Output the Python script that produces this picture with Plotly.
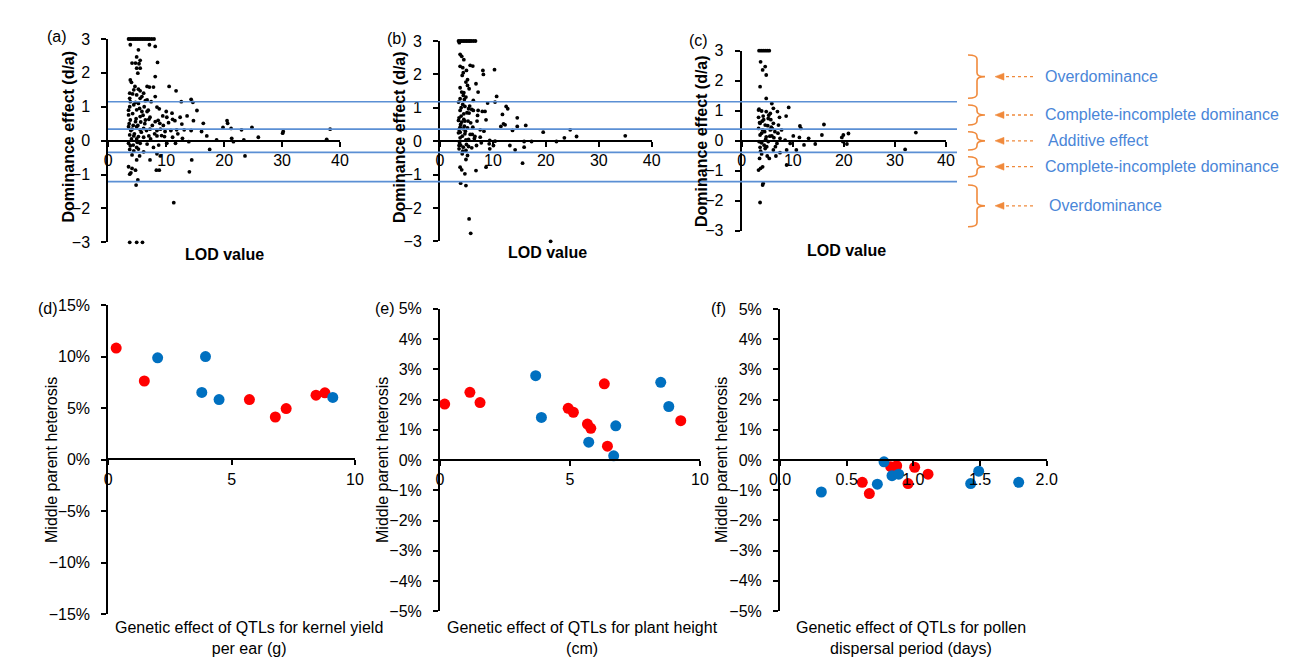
import plotly.graph_objects as go

# the page body adds an 8px margin; the figure is sized to fit inside the window
OFF = 8
W, H = 1302 - OFF, 664 - OFF


def fx(x):
    return (x - OFF) / W


def fy(y):
    return 1 - (y - OFF) / H


# ---------------- data: top panels (LOD value vs dominance effect d/a) ----------------
lod_a = [3.5, 3.8, 4.1, 4.4, 4.7, 5.0, 5.3, 5.6, 5.9, 6.2, 6.5, 6.8, 7.1, 7.5, 7.9,
         3.7, 4.9, 5.9,
         3.8, 7.1, 8.1, 5.2, 4.9, 5.5, 4.1, 4.7, 5.3, 8.5, 4.9, 5.5, 5.1, 8.1, 3.8, 4.0,
         10.5, 6.7, 7.1, 7.8, 4.4, 5.2, 5.5, 11.7, 3.7, 4.2, 4.9, 6.1, 8.1, 5.5, 6.7, 14.3,
         14.6, 12.6, 3.8, 4.7, 5.2, 6.4, 7.4, 3.7, 4.4, 8.4, 8.8, 4.9, 5.8, 6.7, 15.3, 10.0,
         11.0, 3.5, 5.5, 7.2, 9.4, 10.1, 12.4, 13.6, 11.1, 11.5, 3.8, 4.7, 6.4, 8.1, 7.0,
         14.7, 16.4, 8.9, 10.4, 12.7, 20.5, 20.6, 19.8, 21.2, 24.8, 23.0, 3.5, 4.1, 4.9, 5.5,
         6.1, 7.2, 8.4, 9.0, 9.8, 11.8, 13.1, 14.3, 16.1, 17.0, 30.2, 30.1, 38.3, 3.7, 4.4,
         5.2, 6.1, 7.0, 8.4, 9.7, 11.1, 12.8, 13.9, 18.7, 21.3, 23.4, 25.9, 21.6, 37.7, 3.5,
         4.3, 5.5, 6.7, 8.7, 10.1, 11.6, 3.7, 4.9, 6.1, 17.5, 4.1, 5.4, 8.4, 9.0, 7.2, 14.4,
         23.6, 4.9, 3.5, 4.1, 4.7, 8.3, 8.8, 14.0, 3.9, 3.7, 5.1, 4.8, 11.3,
         3.6, 3.9, 4.2, 4.5, 4.8, 5.1, 5.4, 5.7, 6.0, 6.3, 6.6, 3.7, 4.0, 4.6, 5.0, 5.8, 6.9,
         7.6, 8.0, 8.6, 9.2, 3.5, 4.3, 4.9, 5.6, 6.2, 7.3, 3.8, 4.4, 5.2, 7.8, 9.5, 10.8, 12.0]
dom_a = [3.0, 3.0, 3.0, 3.0, 3.0, 3.0, 3.0, 3.0, 3.0, 3.0, 3.0, 3.0, 3.0, 3.0, 3.0,
         -3.0, -3.0, -3.0,
         2.83, 2.83, 2.78, 2.68, 2.47, 2.37, 2.29, 2.29, 2.27, 2.31, 2.14, 2.14, 1.99, 1.89,
         1.79, 1.72, 1.6, 1.6, 1.58, 1.58, 1.5, 1.52, 1.47, 1.47, 1.4, 1.38, 1.35, 1.4, 1.3,
         1.25, 1.2, 1.22, 1.13, 1.15, 1.15, 1.13, 1.1, 1.18, 1.15, 1.0, 1.06, 0.99, 0.94, 0.91,
         0.86, 0.86, 0.89, 0.86, 0.81, 0.76, 0.71, 0.69, 0.73, 0.69, 0.69, 0.73, 0.63, 0.59,
         0.61, 0.56, 0.61, 0.56, 0.63, 0.59, 0.51, 0.51, 0.53, 0.49, 0.59, 0.51, 0.39, 0.36,
         0.39, 0.32, 0.41, 0.34, 0.41, 0.32, 0.36, 0.34, 0.3, 0.34, 0.27, 0.32, 0.32, 0.3, 0.27,
         0.14, 0.27, 0.22, 0.34, 0.17, 0.14, 0.12, 0.1, 0.14, 0.14, 0.12, 0.1, 0.07, -0.03,
         0.02, 0.07, 0.02, 0.1, -0.03, 0.04, -0.08, -0.13, -0.08, -0.1, -0.13, -0.08, -0.08,
         -0.26, -0.2, -0.33, -0.26, -0.42, -0.45, -0.39, -0.45, -0.57, -0.57, -0.45, -0.57,
         -0.77, -0.82, -0.87, -0.87, -0.87, -0.92, -0.95, -0.99, -1.16, -1.31, -1.83,
         0.5, 0.3, 0.8, 0.2, 0.65, 0.45, 0.95, 0.25, 0.75, 0.5, 0.3, 1.25, 0.05, 1.6, -0.05,
         1.3, 0.9, 0.45, 0.2, 0.6, 0.15, 0.9, 0.45, 0.05, 0.55, 1.0, 0.05, -0.15, -0.3, -0.25,
         -0.2, 0.45, 0.3, 0.2]

lod_b = [3.5, 3.8, 4.1, 4.4, 4.7, 5.0, 5.3, 5.6, 5.9, 6.3, 6.7,
         3.65, 3.8, 4.1, 4.5, 3.8, 4.3, 5.7, 6.2, 5.0, 10.3, 8.1, 8.2, 4.2, 5.2, 4.9, 5.2, 6.8,
         5.5, 7.2, 4.1, 4.4, 4.9, 3.8, 10.7, 6.3, 10.4, 3.5, 4.3, 4.7, 9.0, 12.5, 12.8, 5.4,
         6.3, 7.2, 8.0, 8.5, 3.8, 4.5, 5.5, 7.1, 11.8, 14.6, 8.7, 3.5, 4.1, 4.7, 12.0, 12.3,
         11.5, 16.2, 14.6, 3.8, 4.4, 5.2, 6.2, 7.6, 13.7, 19.5, 24.6, 3.8, 4.7, 5.7, 6.6, 7.6,
         23.5, 25.8, 35.0, 3.8, 4.9, 9.4, 10.4, 15.9, 17.3, 22.0, 3.6, 4.4, 5.4, 6.9, 9.3,
         10.1, 13.2, 3.6, 4.9, 9.4, 14.2, 15.9, 4.2, 5.2, 3.8, 4.1, 8.7, 15.6, 6.8, 4.7, 3.9,
         4.9, 5.5, 5.8, 20.9,
         3.6, 3.9, 4.2, 4.5, 4.8, 5.1, 5.4, 3.7, 4.0, 4.6, 5.0, 5.8, 6.1, 3.6, 4.3, 4.9, 6.0,
         7.0, 3.8, 4.4, 5.6, 6.5, 7.8, 8.3, 3.5, 4.0, 4.6, 5.3, 6.0, 3.9, 4.5]
dom_b = [3.0, 3.0, 3.0, 3.0, 3.0, 3.0, 3.0, 3.0, 3.0, 3.0, 3.0,
         2.95, 2.6, 2.54, 2.44, 2.24, 2.2, 2.27, 2.25, 2.12, 2.14, 2.12, 2.0, 1.97, 1.84, 1.77,
         1.67, 1.72, 1.57, 1.47, 1.47, 1.37, 1.32, 1.27, 1.34, 1.22, 1.17, 1.17, 1.1, 1.04,
         1.14, 1.04, 0.97, 0.97, 0.92, 0.92, 0.89, 0.89, 0.92, 0.82, 0.84, 0.77, 0.8, 0.7, 0.64,
         0.62, 0.57, 0.6, 0.52, 0.49, 0.44, 0.47, 0.44, 0.42, 0.37, 0.4, 0.42, 0.34, 0.32, 0.27,
         0.34, 0.27, 0.22, 0.2, 0.14, 0.12, 0.1, 0.14, 0.16, 0.1, 0.04, 0.02, 0.0, -0.01, -0.01,
         -0.01, -0.13, -0.18, -0.16, -0.13, -0.08, -0.13, -0.13, -0.23, -0.28, -0.23, -0.26,
         -0.18, -0.38, -0.43, -0.78, -0.86, -0.78, -0.66, -0.88, -0.98, -1.26, -1.33, -2.33,
         -2.76, -3.0,
         0.7, 0.5, 0.15, 0.65, 0.3, 0.85, 0.05, -0.05, 1.0, 1.25, -0.1, 0.55, 0.2, 0.35, -0.3,
         -0.55, -0.2, 0.6, 1.6, 2.05, 1.05, 0.08, -0.05, 0.3, 0.25, 0.75, 0.45, 0.6, 0.95,
         -0.12, 1.45]

lod_c = [3.4, 3.8, 4.2, 4.6, 5.0, 5.4,
         3.7, 4.6, 4.1, 4.8, 3.6, 4.8, 5.9, 9.2, 6.2, 3.3, 3.9, 4.8, 5.6, 7.0, 3.3, 4.2, 5.2,
         8.7, 7.4, 3.6, 4.6, 6.2, 7.2, 16.1, 11.4, 11.6, 3.3, 4.1, 5.6, 6.5, 7.8, 15.7, 19.9,
         20.9, 34.1, 10.1, 11.3, 13.1, 19.6, 3.6, 4.8, 5.9, 7.5, 8.5, 3.4, 3.9, 5.2, 6.9, 9.5,
         12.2, 14.4, 20.6, 19.8, 3.6, 4.6, 6.2, 7.5, 8.8, 10.7, 32.0, 3.9, 5.0, 6.7, 3.5, 5.4,
         8.8, 4.1, 3.3, 3.7, 4.1, 4.2, 3.6,
         3.5, 3.9, 4.3, 4.7, 5.1, 5.5, 3.7, 4.4, 5.3, 6.0, 6.6, 7.1, 3.4, 4.0, 4.5, 5.7, 6.3,
         3.8, 4.9, 5.8]
dom_c = [3.0, 3.0, 3.0, 3.0, 3.0, 3.0,
         2.63, 2.47, 2.36, 2.19, 1.8, 1.41, 1.24, 1.11, 1.08, 1.02, 0.99, 0.97, 0.91, 0.97, 0.78,
         0.82, 0.74, 0.82, 0.78, 0.58, 0.52, 0.58, 0.52, 0.54, 0.49, 0.41, 0.41, 0.36, 0.36,
         0.3, 0.36, 0.19, 0.19, 0.24, 0.27, 0.16, 0.11, 0.08, 0.11, 0.19, 0.13, 0.16, 0.08,
         0.02, -0.03, -0.07, -0.03, -0.09, -0.09, -0.14, -0.11, -0.11, -0.03, -0.22, -0.26,
         -0.31, -0.4, -0.31, -0.31, -0.29, -0.44, -0.51, -0.51, -0.59, -0.59, -0.81, -0.87,
         -0.98, -0.92, -1.48, -1.42, -2.06,
         0.6, 0.25, 0.7, 0.05, 0.5, 0.15, -0.35, -0.15, 0.85, 0.4, -0.2, 0.25, 1.05, 0.65,
         0.3, 0.7, 0.1, -0.05, -0.2, 0.45]

# blue threshold lines (in panel (a) d/a units)
dom_thresholds = [1.15, 0.34, -0.345, -1.21]

# ---------------- data: bottom panels (genetic effect vs middle parent heterosis) ----------------
ky_red_x = [0.32, 1.46, 5.72, 6.77, 7.21, 8.42, 8.78]
ky_red_y = [0.1085, 0.0765, 0.0585, 0.0415, 0.0497, 0.0627, 0.065]
ky_blue_x = [2.0, 3.94, 3.79, 4.49, 9.1]
ky_blue_y = [0.099, 0.1003, 0.0654, 0.0585, 0.0605]

ph_red_x = [0.18, 1.15, 1.54, 4.93, 5.13, 5.67, 5.8, 6.32, 6.44, 9.26]
ph_red_y = [0.0185, 0.0224, 0.019, 0.0171, 0.0158, 0.0119, 0.0105, 0.0252, 0.0046, 0.013]
ph_blue_x = [3.68, 3.9, 5.72, 6.68, 6.76, 8.49, 8.8]
ph_blue_y = [0.0279, 0.0141, 0.0059, 0.0014, 0.0113, 0.0257, 0.0177]

pd_red_x = [0.617, 0.67, 0.83, 0.875, 0.96, 1.01, 1.11]
pd_red_y = [-0.0074, -0.0111, -0.0022, -0.0019, -0.0078, -0.0024, -0.0047]
pd_blue_x = [0.31, 0.73, 0.78, 0.84, 0.89, 1.43, 1.49, 1.79]
pd_blue_y = [-0.0106, -0.008, -0.0006, -0.0052, -0.0047, -0.0078, -0.0037, -0.0074]

range_labels = ["Overdominance", "Complete-incomplete dominance", "Additive effect",
                "Complete-incomplete dominance", "Overdominance"]

# ---------------- figure ----------------
fig = go.Figure()

FONT = "Liberation Sans, Arial, sans-serif"
BLACK = "#000000"
RED = "#FF0000"
BLUE = "#0070C0"
ORANGE = "#F08A3C"
LINEBLUE = "#5B8FD4"
TEXTBLUE = "#4A86D8"

top = [("x", "y", lod_a, dom_a), ("x2", "y2", lod_b, dom_b), ("x3", "y3", lod_c, dom_c)]
for xa, ya, xs, ys in top:
    fig.add_trace(go.Scatter(x=xs, y=ys, xaxis=xa, yaxis=ya, mode="markers",
                             marker=dict(size=3.8, color=BLACK), cliponaxis=False,
                             showlegend=False, hoverinfo="x+y"))

bottom = [("x4", "y4", ky_red_x, ky_red_y, ky_blue_x, ky_blue_y),
          ("x5", "y5", ph_red_x, ph_red_y, ph_blue_x, ph_blue_y),
          ("x6", "y6", pd_red_x, pd_red_y, pd_blue_x, pd_blue_y)]
for xa, ya, rx, ry, bx, by in bottom:
    fig.add_trace(go.Scatter(x=rx, y=ry, xaxis=xa, yaxis=ya, mode="markers",
                             marker=dict(size=11, color=RED), cliponaxis=False,
                             showlegend=False))
    fig.add_trace(go.Scatter(x=bx, y=by, xaxis=xa, yaxis=ya, mode="markers",
                             marker=dict(size=11, color=BLUE), cliponaxis=False,
                             showlegend=False))

axis_common = dict(showline=True, linecolor=BLACK, linewidth=2, ticks="outside",
                   ticklen=5, tickwidth=2, tickcolor=BLACK, showgrid=False,
                   zeroline=False, automargin=False,
                   tickfont=dict(family=FONT, size=16, color=BLACK))

# pixel geometry of the panels (page pixels)
top_panels = [  # x0px, x40px, ytop(3), ybottom(-3)
    (108.3, 340.0, 39.0, 242.3),
    (440.0, 651.7, 41.0, 241.3),
    (741.7, 946.0, 50.7, 230.7),
]
zero_top = 140.7
layout = {}
names = ["", "2", "3"]
for n, (x0, x1, yt, yb) in zip(names, top_panels):
    layout["xaxis" + n] = dict(domain=[fx(x0), fx(x1)], range=[0, 40], anchor="free",
                               position=fy(zero_top), tickvals=[0, 10, 20, 30, 40],
                               **axis_common)
    layout["yaxis" + n] = dict(domain=[fy(yb), fy(yt)], range=[-3, 3],
                               anchor="x" + n, tickvals=[-3, -2, -1, 0, 1, 2, 3],
                               ticklabelstandoff=8, **axis_common)

bot_panels = [  # x0px, x1px, xrange, xticks, xformat, ytop, ybottom, yrange, zero px, yticks
    (108.3, 355.0, [0, 10], [0, 5, 10], ".0f", 305.4, 614.0, [-0.15, 0.15], 459.3,
     [-0.15, -0.10, -0.05, 0, 0.05, 0.10, 0.15]),
    (440.0, 700.0, [0, 10], [0, 5, 10], ".0f", 308.8, 611.3, [-0.05, 0.05], 460.0,
     [-0.05, -0.04, -0.03, -0.02, -0.01, 0, 0.01, 0.02, 0.03, 0.04, 0.05]),
    (780.0, 1046.7, [0, 2], [0, 0.5, 1.0, 1.5, 2.0], ".1f", 309.0, 611.0, [-0.05, 0.05], 460.0,
     [-0.05, -0.04, -0.03, -0.02, -0.01, 0, 0.01, 0.02, 0.03, 0.04, 0.05]),
]
for n, (x0, x1, xr, xt, xf, yt, yb, yr, z, yv) in zip(["4", "5", "6"], bot_panels):
    layout["xaxis" + n] = dict(domain=[fx(x0), fx(x1)], range=xr, anchor="free",
                               position=fy(z), tickvals=xt, tickformat=xf, **axis_common)
    layout["yaxis" + n] = dict(domain=[fy(yb), fy(yt)], range=yr, anchor="x" + n,
                               tickvals=yv, tickformat=".0%", ticklabelstandoff=8,
                               **axis_common)

fig.update_layout(width=W, height=H,
                  margin=dict(l=0, r=0, t=0, b=0, pad=0, autoexpand=False),
                  paper_bgcolor="white", plot_bgcolor="rgba(0,0,0,0)",
                  font=dict(family=FONT, color=BLACK), showlegend=False, **layout)

shapes = []
# blue classification lines across the three top panels
for v in dom_thresholds:
    shapes.append(dict(type="line", xref="paper", yref="y", x0=fx(108), x1=fx(957),
                       y0=v, y1=v, line=dict(color=LINEBLUE, width=1.6), layer="above"))


def P(x, y):
    return f"{fx(x):.5f},{fy(y):.5f}"


braces = [(55, 98.3), (105, 125), (131.7, 150), (156.7, 176.7), (185, 226.7)]
for (y1, y2) in braces:
    mid = (y1 + y2) / 2
    xo, xb, xt, r = 968, 977, 985, 4
    path = (f"M {P(xo, y1)} Q {P(xb, y1)} {P(xb, y1 + r)} L {P(xb, mid - r)} "
            f"Q {P(xb, mid)} {P(xt, mid)} Q {P(xb, mid)} {P(xb, mid + r)} "
            f"L {P(xb, y2 - r)} Q {P(xb, y2)} {P(xo, y2)}")
    shapes.append(dict(type="path", xref="paper", yref="paper", path=path,
                       line=dict(color=ORANGE, width=1.6)))
    shapes.append(dict(type="line", xref="paper", yref="paper", x0=fx(1033), x1=fx(1002),
                       y0=fy(mid), y1=fy(mid), line=dict(color=ORANGE, width=1.3, dash="dot")))
    shapes.append(dict(type="path", xref="paper", yref="paper",
                       path=f"M {P(995, mid)} L {P(1004, mid - 3.5)} L {P(1004, mid + 3.5)} Z",
                       fillcolor=ORANGE, line=dict(color=ORANGE, width=0.5)))
fig.update_layout(shapes=shapes)

ann = []
text_x = [1043, 1043, 1046, 1043, 1047]
for (y1, y2), lab, tx in zip(braces, range_labels, text_x):
    ann.append(dict(x=fx(tx), y=fy((y1 + y2) / 2), xref="paper", yref="paper", text=lab,
                    showarrow=False, xanchor="left", yanchor="middle",
                    font=dict(family=FONT, size=16, color=TEXTBLUE)))

# panel letters
for lab, x, y in [("(a)", 57, 36), ("(b)", 397, 38), ("(c)", 698, 40),
                  ("(d)", 48, 308), ("(e)", 385, 308), ("(f)", 718, 308)]:
    ann.append(dict(x=fx(x), y=fy(y), xref="paper", yref="paper", text=lab,
                    showarrow=False, xanchor="center", yanchor="middle",
                    font=dict(family=FONT, size=16, color=BLACK)))

# top axis titles
for x, y in [(67.5, 137), (399, 137), (701, 141)]:
    ann.append(dict(x=fx(x), y=fy(y), xref="paper", yref="paper",
                    text="<b>Dominance effect (d/a)</b>", textangle=-90, showarrow=False,
                    xanchor="center", yanchor="middle",
                    font=dict(family=FONT, size=16, color=BLACK)))
for x, y in [(224, 255), (547, 252), (846, 251)]:
    ann.append(dict(x=fx(x), y=fy(y), xref="paper", yref="paper", text="<b>LOD value</b>",
                    showarrow=False, xanchor="center", yanchor="middle",
                    font=dict(family=FONT, size=16, color=BLACK)))

# bottom axis titles
for x in [52, 383, 722]:
    ann.append(dict(x=fx(x), y=fy(460), xref="paper", yref="paper",
                    text="Middle parent heterosis", textangle=-90, showarrow=False,
                    xanchor="center", yanchor="middle",
                    font=dict(family=FONT, size=16, color=BLACK)))
for x, t in [(249, "Genetic effect of QTLs for kernel yield<br>per ear (g)"),
             (582, "Genetic effect of QTLs for plant height<br>(cm)"),
             (911, "Genetic effect of QTLs for pollen<br>dispersal period (days)")]:
    ann.append(dict(x=fx(x), y=fy(617), xref="paper", yref="paper", text=t,
                    showarrow=False, xanchor="center", yanchor="top", align="center",
                    font=dict(family=FONT, size=16, color=BLACK)))

fig.update_layout(annotations=ann)
fig.write_html("out.html")
